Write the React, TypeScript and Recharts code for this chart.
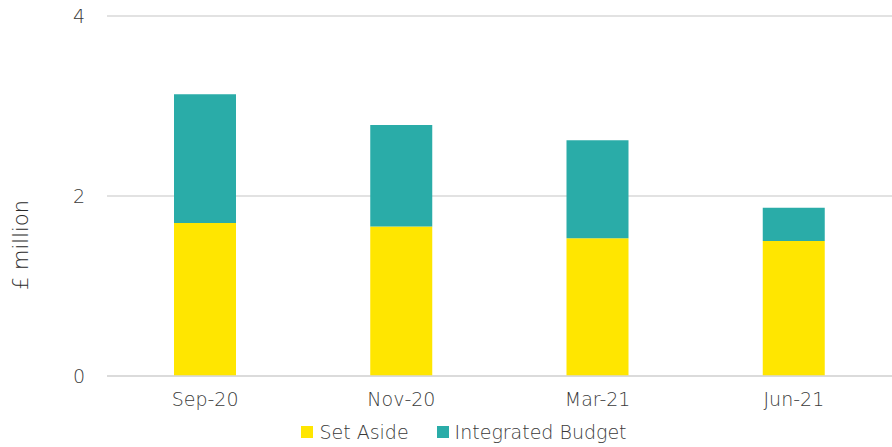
import { BarChart, Bar, XAxis, YAxis, CartesianGrid, Legend } from 'recharts'

const periods = ['Sep-20', 'Nov-20', 'Mar-21', 'Jun-21']
const setAside = [1.7, 1.66, 1.53, 1.5]
const integratedBudget = [1.43, 1.13, 1.09, 0.37]
const yTicks = [0, 2, 4]
const legendItems = [
  { label: 'Set Aside', color: '#FFE600' },
  { label: 'Integrated Budget', color: '#2AACA8' },
]

const chartData = periods.map((p, i) => ({
  period: p,
  setAside: setAside[i],
  integratedBudget: integratedBudget[i],
}))

const font = "'DejaVu Sans', sans-serif"
const textColor = '#3a3a3a'
const tickStyle = { fill: textColor, fontSize: 19, fontFamily: font, fontWeight: 200 }

function YLabel() {
  return (
    <text
      x={21}
      y={245}
      transform="rotate(-90 21 245)"
      textAnchor="middle"
      dominantBaseline="central"
      fill="#2a2a2a"
      fontSize={21}
      fontWeight={200}
      fontFamily={font}
    >
      £ million
    </text>
  )
}

function LegendContent() {
  return (
    <div style={{ display: 'flex', justifyContent: 'center', gap: 28, fontFamily: font, fontWeight: 200, fontSize: 19, color: textColor, paddingTop: 5, paddingLeft: 36 }}>
      {legendItems.map((it) => (
        <span key={it.label} style={{ display: 'flex', alignItems: 'center' }}>
          <span style={{ width: 12, height: 12, background: it.color, marginRight: 6 }} />
          {it.label}
        </span>
      ))}
    </div>
  )
}

export default function App() {
  return (
    <div style={{ position: 'absolute', left: 0, top: 0, width: 892, height: 447, background: '#fff' }}>
      <BarChart
        width={892}
        height={447}
        data={chartData}
        margin={{ top: 16, right: 0, bottom: 0, left: 0 }}
        barSize={62}
      >
        <CartesianGrid vertical={false} stroke="#d9d9d9" strokeWidth={1.5} />
        <XAxis
          dataKey="period"
          height={40}
          tick={tickStyle}
          tickLine={false}
          tickSize={0}
          tickMargin={17}
          axisLine={{ stroke: '#d9d9d9', strokeWidth: 1.5 }}
        />
        <YAxis
          width={107}
          domain={[0, 4]}
          ticks={yTicks}
          tick={tickStyle}
          tickLine={false}
          tickSize={0}
          tickMargin={22}
          axisLine={false}
          label={() => <YLabel />}
        />
        <Legend verticalAlign="bottom" height={31} content={() => <LegendContent />} />
        <Bar dataKey="setAside" name="Set Aside" stackId="a" fill="#FFE600" isAnimationActive={false} />
        <Bar dataKey="integratedBudget" name="Integrated Budget" stackId="a" fill="#2AACA8" isAnimationActive={false} />
      </BarChart>
    </div>
  )
}
